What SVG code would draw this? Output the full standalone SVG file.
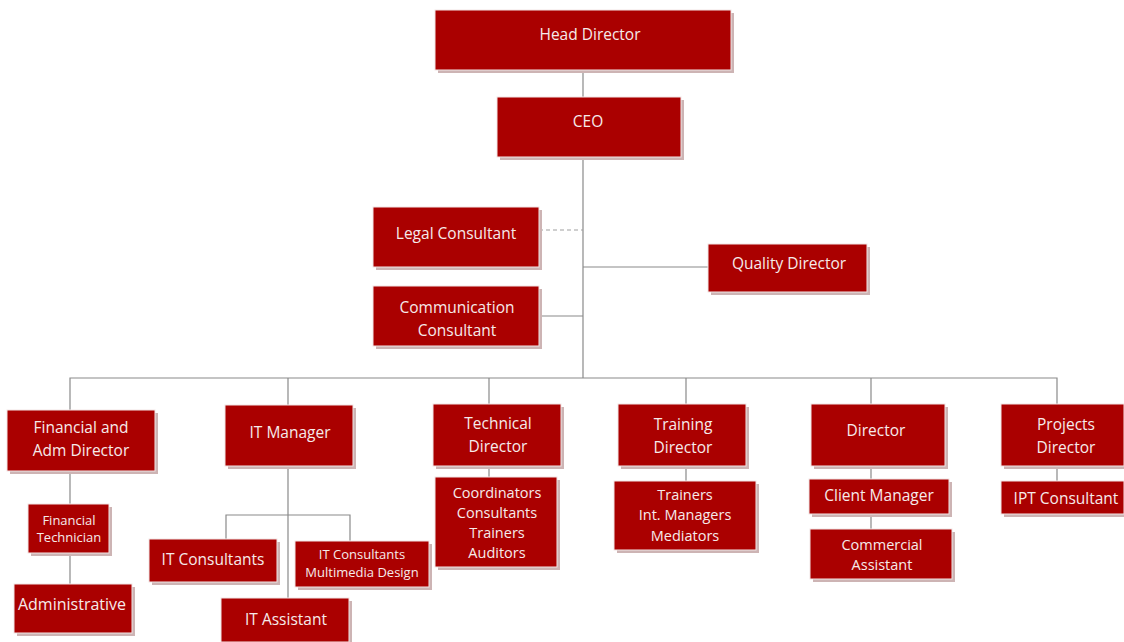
<svg xmlns="http://www.w3.org/2000/svg" width="1124" height="642" viewBox="0 0 1124 642">
<style>
.sh{fill:#cdb4b4}
.bx{fill:#aa0000;stroke:#f2e6e6;stroke-width:1}
text{font-family:"Open Sans","Noto Sans","Liberation Sans",sans-serif;fill:#f6eaea;text-anchor:middle;dominant-baseline:central;font-size:15.5px}
.s{font-size:13px}
.m{font-size:14.5px}
.l{font-size:16px}
.c{stroke:#8a8a8a;stroke-width:1.2;fill:none}
.d{stroke:#a0a0a0;stroke-width:1.2;fill:none;stroke-dasharray:4 3}
</style>
<rect width="1124" height="642" fill="#ffffff"/>
<g id="connectors">
<path class="c" d="M583 70V97M583 157V378M583 267H708M539 316H583"/>
<path class="d" d="M539 230H583"/>
<path class="c" d="M70 410V378H1057V404M288 378V405M489 378V404M686 378V404M871 378V404"/>
<path class="c" d="M70 471V584M288 466V598M226 539V515H350V541M489 466V477M686 466V481M871 466V529M1057 466V481"/>
</g>
<g id="head"><rect class="sh" x="438" y="13" width="296" height="60"/><rect class="bx" x="435" y="10" width="296" height="60"/><text x="590" y="34">Head Director</text></g>
<g id="ceo"><rect class="sh" x="500" y="100" width="184" height="60"/><rect class="bx" x="497" y="97" width="184" height="60"/><text x="588" y="121">CEO</text></g>
<g id="legal"><rect class="sh" x="376" y="210" width="166" height="60"/><rect class="bx" x="373" y="207" width="166" height="60"/><text x="456" y="233">Legal Consultant</text></g>
<g id="quality"><rect class="sh" x="711" y="247" width="159" height="48"/><rect class="bx" x="708" y="244" width="159" height="48"/><text x="789" y="263">Quality Director</text></g>
<g id="communication"><rect class="sh" x="376" y="289" width="166" height="60"/><rect class="bx" x="373" y="286" width="166" height="60"/><text x="457" y="307">Communication</text><text x="457" y="330">Consultant</text></g>
<g id="financial"><rect class="sh" x="10" y="413" width="148" height="61"/><rect class="bx" x="7" y="410" width="148" height="61"/><text x="81" y="427">Financial and</text><text x="81" y="450">Adm Director</text></g>
<g id="itmanager"><rect class="sh" x="228" y="408" width="128" height="61"/><rect class="bx" x="225" y="405" width="128" height="61"/><text x="290" y="432">IT Manager</text></g>
<g id="technical"><rect class="sh" x="436" y="407" width="128" height="62"/><rect class="bx" x="433" y="404" width="128" height="62"/><text x="498" y="423">Technical</text><text x="498" y="446">Director</text></g>
<g id="training"><rect class="sh" x="621" y="407" width="128" height="62"/><rect class="bx" x="618" y="404" width="128" height="62"/><text x="683" y="424">Training</text><text x="683" y="447">Director</text></g>
<g id="director"><rect class="sh" x="814" y="407" width="134" height="62"/><rect class="bx" x="811" y="404" width="134" height="62"/><text x="876" y="430">Director</text></g>
<g id="projects"><rect class="sh" x="1004" y="407" width="123" height="62"/><rect class="bx" x="1001" y="404" width="123" height="62"/><text x="1066" y="424">Projects</text><text x="1066" y="447">Director</text></g>
<g id="fintech"><rect class="sh" x="31" y="507" width="81" height="49"/><rect class="bx" x="28" y="504" width="81" height="49"/><text class="s" x="69" y="520">Financial</text><text class="s" x="69" y="537">Technician</text></g>
<g id="administrative"><rect class="sh" x="17" y="587" width="118" height="49"/><rect class="bx" x="14" y="584" width="118" height="49"/><text class="l" x="72" y="604">Administrative</text></g>
<g id="itconsultants"><rect class="sh" x="152" y="542" width="128" height="43"/><rect class="bx" x="149" y="539" width="128" height="43"/><text x="213" y="559">IT Consultants</text></g>
<g id="itmultimedia"><rect class="sh" x="298" y="544" width="134" height="46"/><rect class="bx" x="295" y="541" width="134" height="46"/><text class="s" x="362" y="554">IT Consultants</text><text class="s" x="362" y="572">Multimedia Design</text></g>
<g id="itassistant"><rect class="sh" x="224" y="601" width="128" height="44"/><rect class="bx" x="221" y="598" width="128" height="44"/><text x="286" y="619">IT Assistant</text></g>
<g id="coordinators"><rect class="sh" x="438" y="480" width="122" height="90"/><rect class="bx" x="435" y="477" width="122" height="90"/><text class="m" x="497" y="492">Coordinators</text><text class="m" x="497" y="512">Consultants</text><text class="m" x="497" y="532">Trainers</text><text class="m" x="497" y="552">Auditors</text></g>
<g id="trainers"><rect class="sh" x="617" y="484" width="142" height="69"/><rect class="bx" x="614" y="481" width="142" height="69"/><text class="m" x="685" y="494">Trainers</text><text class="m" x="685" y="514">Int. Managers</text><text class="m" x="685" y="535">Mediators</text></g>
<g id="clientmanager"><rect class="sh" x="812" y="482" width="140" height="35"/><rect class="bx" x="809" y="479" width="140" height="35"/><text x="879" y="495">Client Manager</text></g>
<g id="commercial"><rect class="sh" x="813" y="532" width="142" height="50"/><rect class="bx" x="810" y="529" width="142" height="50"/><text class="m" x="882" y="544">Commercial</text><text class="m" x="882" y="564">Assistant</text></g>
<g id="ipt"><rect class="sh" x="1004" y="484" width="123" height="33"/><rect class="bx" x="1001" y="481" width="123" height="33"/><text x="1066" y="498">IPT Consultant</text></g>
</svg>
